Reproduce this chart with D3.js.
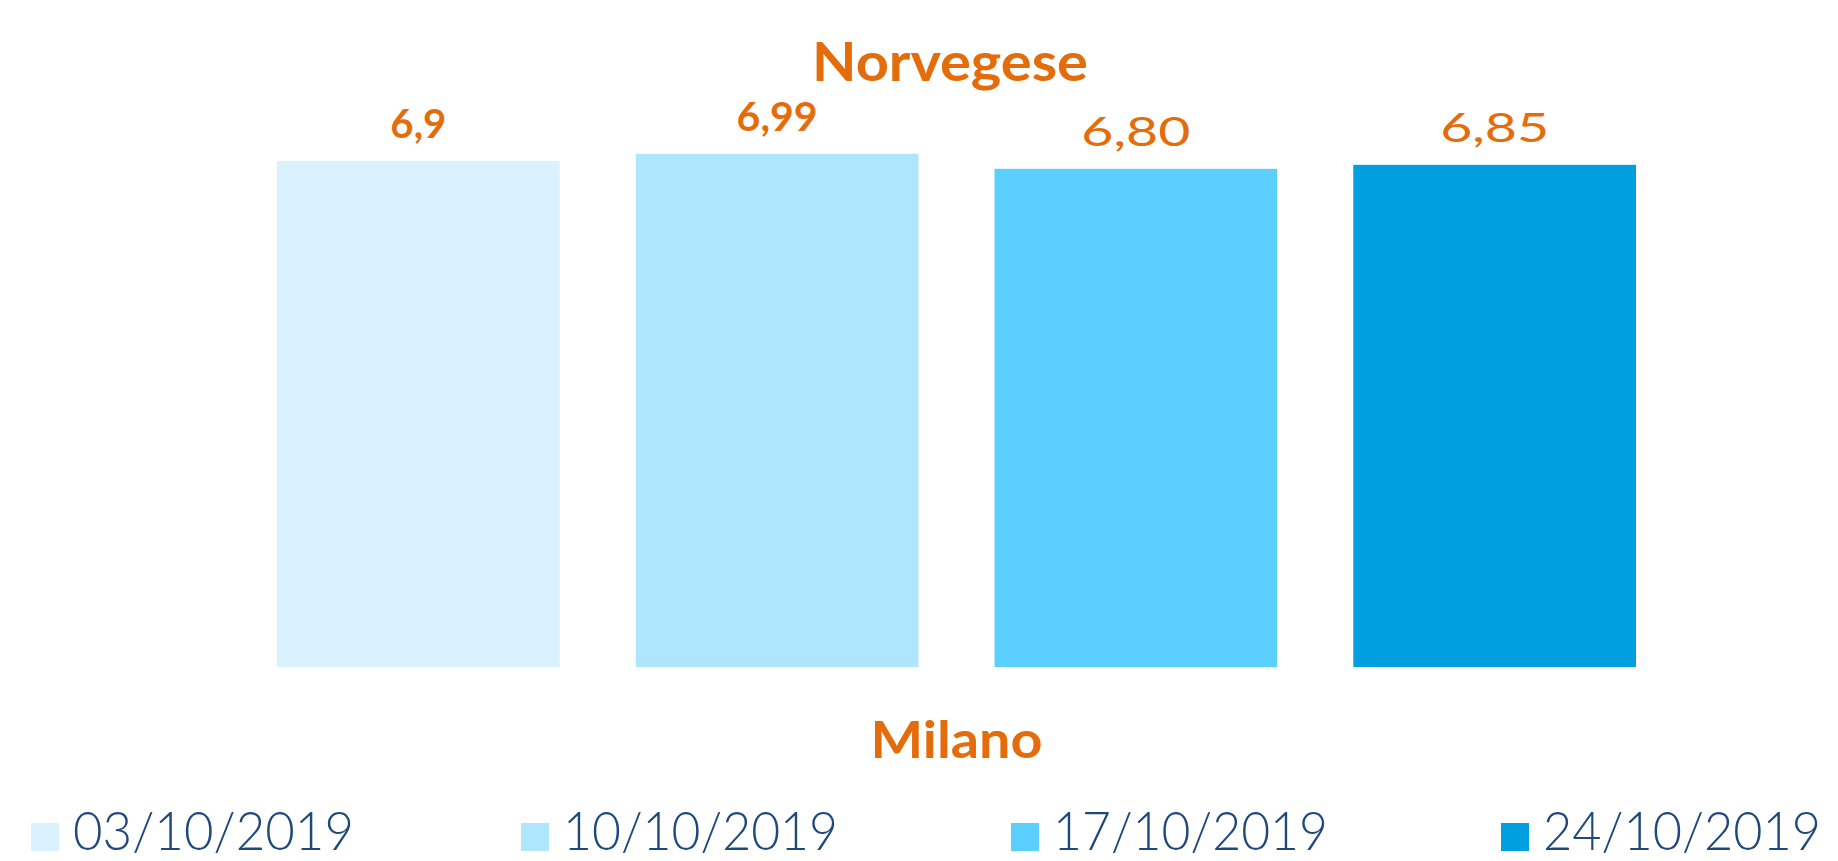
<!DOCTYPE html>
<html>
<head>
<meta charset="utf-8">
<script src="https://cdn.jsdelivr.net/npm/d3@7"></script>
<style>
  html, body { margin: 0; padding: 0; background: #fff; overflow: hidden; }
  svg { display: block; }
  text { font-variant-numeric: lining-nums; font-feature-settings: "lnum" 1; }
</style>
</head>
<body>
<div id="container"></div>
<script>
/**
 * DATA
 * */
const categories = ["Milano"];
const seriesNames = ["03/10/2019", "10/10/2019", "17/10/2019", "24/10/2019"];
const seriesValues = [6.9, 6.99, 6.80, 6.85];
const valueLabels = ["6,9", "6,99", "6,80", "6,85"];
const chartTitle = "Norvegese";

/**
 * CONSTANTS
 * */
const width = 1838,
  height = 861;
const colors = ["#DAF2FD", "#AEE6FE", "#5BCFFE", "#00A0E0"];
const orange = "#E46C0A";
const legendBlue = "#1F497D";
const font = "Lato, 'Noto Sans', sans-serif";

// measured widths of the texts in the reference (Century Gothic)
const labelWidths = [56, 81, 109, 109];
const legendWidths = [281, 275, 275, 278];

const svg = d3.select("#container")
  .append("svg")
  .attr("width", width)
  .attr("height", height);

// scales
const x0 = d3.scaleBand()
  .domain(categories)
  .range([277, 1636])
  .padding(0);

const x1 = d3.scaleBand()
  .domain(seriesNames)
  .range([0, x0.bandwidth()])
  .paddingInner(0.212)
  .paddingOuter(0);

const y = d3.scaleLinear()
  .domain([0.5, 7])
  .range([667, 153]);

const rows = seriesNames.map((s, i) => ({
  series: s,
  value: seriesValues[i],
  label: valueLabels[i],
  i: i
}));

// title
svg.append("text")
  .attr("x", 950)
  .attr("y", 81)
  .attr("text-anchor", "middle")
  .attr("font-family", font)
  .attr("font-weight", "bold")
  .attr("font-size", 54)
  .attr("fill", orange)
  .attr("textLength", 276)
  .attr("lengthAdjust", "spacingAndGlyphs")
  .text(chartTitle);

// bars
const g = svg.selectAll("g.cat")
  .data(categories)
  .join("g")
  .attr("class", "cat")
  .attr("transform", d => `translate(${x0(d)},0)`);

g.selectAll("rect.bar")
  .data(rows)
  .join("rect")
  .attr("class", "bar")
  .attr("x", d => x1(d.series))
  .attr("y", d => y(d.value))
  .attr("width", x1.bandwidth())
  .attr("height", d => y.range()[0] - y(d.value))
  .attr("fill", d => colors[d.i]);

// value labels (first two are bold in the original)
g.selectAll("text.val")
  .data(rows)
  .join("text")
  .attr("class", "val")
  .attr("x", d => x1(d.series) + x1.bandwidth() / 2)
  .attr("y", d => y(d.value) - 23)
  .attr("text-anchor", "middle")
  .attr("font-family", font)
  .attr("font-weight", d => d.i < 2 ? "bold" : "normal")
  .attr("font-size", 40)
  .attr("fill", orange)
  .attr("textLength", d => labelWidths[d.i])
  .attr("lengthAdjust", "spacingAndGlyphs")
  .text(d => d.label);

// category axis label
svg.selectAll("text.cat-label")
  .data(categories)
  .join("text")
  .attr("class", "cat-label")
  .attr("x", d => x0(d) + x0.bandwidth() / 2)
  .attr("y", 758)
  .attr("text-anchor", "middle")
  .attr("font-family", font)
  .attr("font-weight", "bold")
  .attr("font-size", 52)
  .attr("fill", orange)
  .attr("textLength", 172)
  .attr("lengthAdjust", "spacingAndGlyphs")
  .text(d => d);

// legend
const legendX = d3.scaleBand()
  .domain(seriesNames)
  .range([31, 31 + 490 * 4]);

const leg = svg.selectAll("g.legend")
  .data(rows)
  .join("g")
  .attr("class", "legend")
  .attr("transform", d => `translate(${legendX(d.series)},0)`);

leg.append("rect")
  .attr("x", 0)
  .attr("y", 823)
  .attr("width", 28)
  .attr("height", 28)
  .attr("fill", d => colors[d.i]);

leg.append("text")
  .attr("x", 42)
  .attr("y", 850)
  .attr("font-family", font)
  .attr("font-weight", 300)
  .attr("font-size", 53)
  .attr("fill", legendBlue)
  .attr("textLength", d => legendWidths[d.i])
  .attr("lengthAdjust", "spacingAndGlyphs")
  .text(d => d.series);
</script>
</body>
</html>
